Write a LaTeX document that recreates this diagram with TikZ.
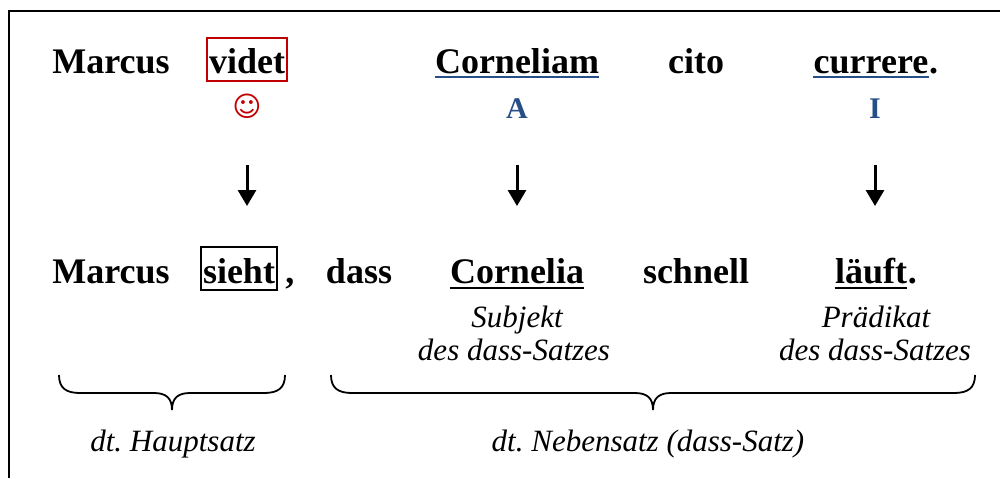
\documentclass[tikz,border=0pt]{standalone}
\usepackage{fontspec}
\setmainfont{Liberation Serif}
\newfontfamily\symfont{DejaVu Sans}
\usetikzlibrary{arrows.meta}
\definecolor{boxred}{RGB}{192,0,0}
\definecolor{gblue}{RGB}{38,79,135}
\tikzset{
 word/.style={anchor=base, inner sep=0pt, font=\fontsize{18}{20}\selectfont\bfseries},
 note/.style={anchor=base, inner sep=0pt, font=\fontsize{15.5}{17}\selectfont\itshape},
 tag/.style={anchor=base, inner sep=0pt, font=\fontsize{15}{17}\selectfont\bfseries, text=gblue},
 framed/.style={draw, line width=1pt, inner xsep=1pt, inner ysep=0pt},
 uline/.style={line width=1.3pt},
 downarrow/.style={line width=1.5pt, -{Triangle[width=9pt,length=8pt]}},
 bracepath/.style={line width=0.9pt},
}
\begin{document}
\frenchspacing
\begin{tikzpicture}[x=0.5pt,y=-0.5pt]
\useasboundingbox (0,0) rectangle (1000,478);
% frame
\draw[line width=1.3pt] (9,478) -- (9,11) -- (1000,11);
% row 1 (Latin)
\node[word] (m1) at (111,73) {Marcus};
\node[word,framed,draw=boxred,text height=17.5pt,text depth=4pt] (videt) at (247,73) {videt};
\node[word] (corneliam) at (517,73) {Corneliam};
\node[word] (cito) at (696,73) {cito};
\node[word] (currere) at (871,73) {currere};
\node[word,anchor=base west] (p1) at (currere.base east) {.};
\draw[uline,gblue] ([yshift=-2pt]corneliam.base west) -- ([yshift=-2pt]corneliam.base east);
\draw[uline,gblue] ([yshift=-2pt]currere.base west) -- ([yshift=-2pt]currere.base east);
% marks
\node[inner sep=0pt,font=\symfont\fontsize{14}{16}\selectfont,text=boxred] (smile) at (247,106) {☺};
\node[tag] (tA) at (517,118) {A};
\node[tag] (tI) at (875,118) {I};
% arrows
\coordinate (s1) at (247,165); \coordinate (e1) at (247,206);
\coordinate (s2) at (517,165); \coordinate (e2) at (517,206);
\coordinate (s3) at (875,165); \coordinate (e3) at (875,206);
\draw[downarrow] (s1) -- (e1);
\draw[downarrow] (s2) -- (e2);
\draw[downarrow] (s3) -- (e3);
% row 2 (German)
\node[word] (m2) at (111,283) {Marcus};
\node[word,framed,text height=18pt,text depth=3.5pt] (sieht) at (239,283) {sieht};
\node[word,anchor=base west] (comma) at (285,283) {,};
\node[word] (dass) at (359,283) {dass};
\node[word] (cornelia) at (517,283) {Cornelia};
\node[word] (schnell) at (696,283) {schnell};
\node[word] (laeuft) at (871,283) {läuft};
\node[word,anchor=base west] (p2) at (laeuft.base east) {.};
\draw[uline] ([yshift=-2.5pt]cornelia.base west) -- ([yshift=-2.5pt]cornelia.base east);
\draw[uline] ([yshift=-2.5pt]laeuft.base west) -- ([yshift=-2.5pt]laeuft.base east);
% notes
\node[note] (subj1) at (517,327) {Subjekt};
\node[note] (subj2) at (514,360) {des dass-Satzes};
\node[note] (pred1) at (876,327) {Prädikat};
\node[note] (pred2) at (875,360) {des dass-Satzes};
% braces
\draw[bracepath] (59,375) .. controls (59,388) and (66,393) .. (80,393) -- (154,393)
  .. controls (166,393) and (172,398) .. (172,410)
  .. controls (172,398) and (178,393) .. (190,393) -- (264,393)
  .. controls (278,393) and (285,388) .. (285,375);
\draw[bracepath] (331,375) .. controls (331,388) and (338,393) .. (352,393) -- (635,393)
  .. controls (647,393) and (653,398) .. (653,410)
  .. controls (653,398) and (659,393) .. (671,393) -- (954,393)
  .. controls (968,393) and (975,388) .. (975,375);
\node[note] (haupt) at (173,451) {dt. Hauptsatz};
\node[note] (neben) at (648,451) {dt. Nebensatz (dass-Satz)};
\end{tikzpicture}
\end{document}
